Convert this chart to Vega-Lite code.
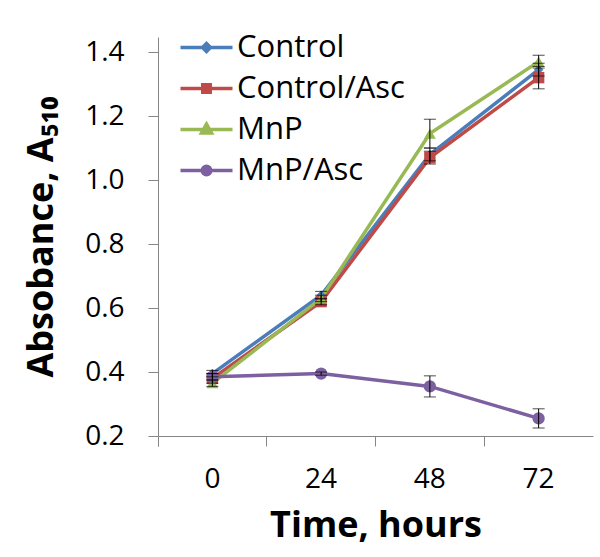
{
  "$schema": "https://vega.github.io/schema/vega-lite/v6.json",
  "width": 435,
  "height": 399,
  "autosize": {"type": "none"},
  "padding": {"left": 158, "top": 37, "right": 7, "bottom": 121},
  "background": "white",
  "config": {
    "view": {"stroke": null},
    "font": "Open Sans",
    "axis": {
      "grid": false,
      "domainColor": "#868686",
      "tickColor": "#868686",
      "tickSize": 10,
      "labelFont": "Open Sans",
      "labelFontSize": 28,
      "labelColor": "black",
      "titleFont": "Open Sans",
      "titleFontSize": 36,
      "titleFontWeight": "bold",
      "titleColor": "black"
    }
  },
  "data": {
    "values": [
      {"series": "Control", "time": "0", "value": 0.395, "lo": 0.385, "hi": 0.405},
      {"series": "Control", "time": "24", "value": 0.64, "lo": 0.628, "hi": 0.652},
      {"series": "Control", "time": "48", "value": 1.08, "lo": 1.06, "hi": 1.10},
      {"series": "Control", "time": "72", "value": 1.345, "lo": 1.325, "hi": 1.365},
      {"series": "Control/Asc", "time": "0", "value": 0.38, "lo": 0.365, "hi": 0.395},
      {"series": "Control/Asc", "time": "24", "value": 0.62, "lo": 0.61, "hi": 0.63},
      {"series": "Control/Asc", "time": "48", "value": 1.07, "lo": 1.05, "hi": 1.09},
      {"series": "Control/Asc", "time": "72", "value": 1.32, "lo": 1.285, "hi": 1.355},
      {"series": "MnP", "time": "0", "value": 0.365, "lo": 0.355, "hi": 0.375},
      {"series": "MnP", "time": "24", "value": 0.63, "lo": 0.62, "hi": 0.64},
      {"series": "MnP", "time": "48", "value": 1.145, "lo": 1.1, "hi": 1.19},
      {"series": "MnP", "time": "72", "value": 1.37, "lo": 1.35, "hi": 1.39},
      {"series": "MnP/Asc", "time": "0", "value": 0.385, "lo": 0.375, "hi": 0.395},
      {"series": "MnP/Asc", "time": "24", "value": 0.395, "lo": 0.39, "hi": 0.4},
      {"series": "MnP/Asc", "time": "48", "value": 0.355, "lo": 0.322, "hi": 0.388},
      {"series": "MnP/Asc", "time": "72", "value": 0.255, "lo": 0.225, "hi": 0.285}
    ]
  },
  "encoding": {
    "x": {
      "field": "time",
      "type": "ordinal",
      "sort": ["0", "24", "48", "72"],
      "bandPosition": 0.5,
      "scale": {"type": "band", "paddingInner": 0, "paddingOuter": 0},
      "axis": {
        "title": "Time, hours",
        "labelAngle": 0,
        "bandPosition": 0,
        "tickExtra": true,
        "labelPadding": 19,
        "titlePadding": 15
      }
    }
  },
  "layer": [
    {
      "mark": {"type": "line", "strokeWidth": 3.5},
      "encoding": {
        "y": {
          "field": "value",
          "type": "quantitative",
          "scale": {"domain": [0.2, 1.447], "zero": false, "nice": false},
          "axis": {
            "title": "Absobance, A₅₁₀",
            "values": [0.2, 0.4, 0.6, 0.8, 1.0, 1.2, 1.4],
            "format": ".1f",
            "labelPadding": 24,
            "titlePadding": 24
          }
        },
        "color": {
          "field": "series",
          "type": "nominal",
          "scale": {
            "domain": ["Control", "Control/Asc", "MnP", "MnP/Asc"],
            "range": ["#4A7EBB", "#BE4B48", "#98B954", "#7D60A0"]
          },
          "legend": {
            "orient": "none",
            "legendX": 33,
            "legendY": -5,
            "title": null,
            "padding": 0,
            "labelFont": "Open Sans",
            "labelFontSize": 31,
            "labelColor": "black",
            "labelOffset": 15,
            "labelLimit": 400,
            "symbolSize": 100,
            "rowPadding": 9,
            "encode": {
              "symbols": {
                "update": {
                  "shape": {"signal": "datum.value === 'Control' ? 'M-5.2,0H5.2M-0.8,0L0,-0.8L0.8,0L0,0.8Z' : datum.value === 'Control/Asc' ? 'M-5.2,0H5.2M-0.75,-0.75H0.75V0.75H-0.75Z' : datum.value === 'MnP' ? 'M-5.2,0H5.2M0,-1.1L1,0.7L-1,0.7Z' : 'M-5.2,0H5.2M0.85,0A0.85,0.85,0,1,1,-0.85,0A0.85,0.85,0,1,1,0.85,0Z'"},
                  "fill": {"scale": "color", "field": "value"},
                  "stroke": {"scale": "color", "field": "value"},
                  "strokeWidth": {"value": 3.5},
                  "opacity": {"value": 1}
                }
              }
            }
          }
        }
      }
    },
    {
      "transform": [{"filter": "datum.series === 'Control'"}],
      "mark": {"type": "point", "filled": true, "size": 90, "opacity": 1, "shape": "diamond"},
      "encoding": {
        "y": {"field": "value", "type": "quantitative", "title": "Absobance, A₅₁₀"},
        "color": {"field": "series", "type": "nominal"}
      }
    },
    {
      "transform": [{"filter": "datum.series === 'Control/Asc'"}],
      "mark": {"type": "point", "filled": true, "size": 130, "opacity": 1, "shape": "square"},
      "encoding": {
        "y": {"field": "value", "type": "quantitative", "title": "Absobance, A₅₁₀"},
        "color": {"field": "series", "type": "nominal"}
      }
    },
    {
      "transform": [{"filter": "datum.series === 'MnP'"}],
      "mark": {"type": "point", "filled": true, "size": 140, "opacity": 1, "shape": "triangle-up"},
      "encoding": {
        "y": {"field": "value", "type": "quantitative", "title": "Absobance, A₅₁₀"},
        "color": {"field": "series", "type": "nominal"}
      }
    },
    {
      "transform": [{"filter": "datum.series === 'MnP/Asc'"}],
      "mark": {"type": "point", "filled": true, "size": 150, "opacity": 1, "shape": "circle"},
      "encoding": {
        "y": {"field": "value", "type": "quantitative", "title": "Absobance, A₅₁₀"},
        "color": {"field": "series", "type": "nominal"}
      }
    },
    {
      "mark": {"type": "rule", "color": "black", "strokeWidth": 1},
      "encoding": {
        "y": {"field": "lo", "type": "quantitative", "title": "Absobance, A₅₁₀"},
        "y2": {"field": "hi"}
      }
    },
    {
      "mark": {"type": "tick", "color": "black", "size": 12, "thickness": 1, "orient": "horizontal"},
      "encoding": {
        "y": {"field": "lo", "type": "quantitative", "title": "Absobance, A₅₁₀"}
      }
    },
    {
      "mark": {"type": "tick", "color": "black", "size": 12, "thickness": 1, "orient": "horizontal"},
      "encoding": {
        "y": {"field": "hi", "type": "quantitative", "title": "Absobance, A₅₁₀"}
      }
    }
  ]
}
